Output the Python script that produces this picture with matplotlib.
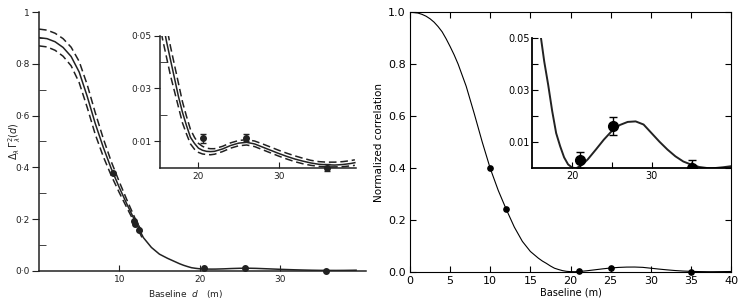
import matplotlib.pyplot as plt

# ---- left panel (scanned original) ----
left_d = [0, 1, 2, 3, 4, 5, 6, 7, 8, 9, 10, 11, 12, 13, 14, 15, 15.5, 16,
          16.5, 17, 17.5, 18, 18.5, 19, 19.5, 20, 20.5, 21, 21.5, 22, 23, 24,
          25, 26, 27, 28, 29, 30, 31, 32, 33, 34, 35, 36, 37, 38, 39, 39.5]
left_mid = [0.902, 0.898, 0.886, 0.864, 0.829, 0.769, 0.675, 0.57, 0.478,
            0.395, 0.322, 0.254, 0.19, 0.128, 0.09, 0.064, 0.056, 0.048,
            0.041, 0.034, 0.027, 0.021, 0.016, 0.0115, 0.0092, 0.0074,
            0.0066, 0.0062, 0.0061, 0.0062, 0.0071, 0.0084, 0.0093, 0.0096,
            0.009, 0.0078, 0.0066, 0.0054, 0.0043, 0.0033, 0.0025, 0.0018,
            0.0013, 0.0011, 0.001, 0.0012, 0.0016, 0.0019]
left_hi = [0.935, 0.931, 0.919, 0.898, 0.865, 0.81, 0.72, 0.612, 0.512,
           0.422, 0.344, 0.27, 0.2, 0.14, 0.1, 0.072, 0.063, 0.054, 0.046,
           0.039, 0.032, 0.025, 0.0195, 0.0145, 0.0115, 0.0092, 0.0081,
           0.0074, 0.0072, 0.0072, 0.0081, 0.0094, 0.0103, 0.0106, 0.0101,
           0.009, 0.0078, 0.0066, 0.0055, 0.0045, 0.0036, 0.0028, 0.0023,
           0.0021, 0.0021, 0.0023, 0.0027, 0.003]
left_lo = [0.87, 0.866, 0.853, 0.83, 0.793, 0.728, 0.632, 0.528, 0.442,
           0.368, 0.302, 0.24, 0.18, 0.118, 0.081, 0.057, 0.049, 0.042,
           0.035, 0.029, 0.023, 0.017, 0.0128, 0.009, 0.007, 0.0058, 0.0052,
           0.005, 0.0049, 0.0051, 0.0061, 0.0074, 0.0083, 0.0086, 0.008,
           0.0068, 0.0056, 0.0044, 0.0033, 0.0023, 0.0015, 0.0009, 0.0005,
           0.0003, 0.0003, 0.0004, 0.0007, 0.0009]
left_pts_d = [9.2, 11.8, 12.0, 12.45, 20.6, 25.6, 35.7]
left_pts_v = [0.377, 0.193, 0.18, 0.158, 0.009, 0.012, 0.0]
left_err_d = [20.6, 25.9, 36.0]
left_err_v = [0.0111, 0.0114, 0.0]
left_err_e = [0.0017, 0.0014, 0.0014]

# ---- right panel (recomputed figure) ----
right_d = [0, 0.5, 1, 1.5, 2, 2.5, 3, 3.5, 4, 4.5, 5, 5.5, 6, 7, 8, 9, 10,
           11, 12, 13, 14, 15, 16, 16.5, 17, 17.5, 18, 18.5, 19, 19.5, 20,
           20.5, 21, 21.5, 22, 23, 24, 25, 26, 27, 28, 29, 30, 31, 32, 33,
           34, 35, 36, 37, 37.5, 38, 39, 40]
right_v = [1.0, 0.999, 0.997, 0.992, 0.985, 0.975, 0.962, 0.945, 0.925,
           0.898, 0.868, 0.836, 0.8, 0.715, 0.61, 0.5, 0.398, 0.313, 0.24,
           0.172, 0.117, 0.078, 0.052, 0.041, 0.032, 0.022, 0.0135, 0.0085,
           0.0042, 0.0015, 0.0003, 0.0, 0.0008, 0.002, 0.0035, 0.0072, 0.011,
           0.0143, 0.0166, 0.0178, 0.018, 0.0168, 0.0135, 0.0102, 0.0072,
           0.0046, 0.0026, 0.0014, 0.0005, 0.0001, 0.0, 0.0001, 0.0004,
           0.0008]
right_pts_d = [10, 12, 21, 25, 35]
right_pts_v = [0.398, 0.24, 0.003, 0.016, 0.0003]
ins_d = [21.0, 25.1, 35.1]
ins_v = [0.0032, 0.0163, 0.0003]
ins_e = [0.0032, 0.0035, 0.003]

ink = '#222222'
dash = (0, (5, 2.5))
fig = plt.figure(figsize=(7.39, 3.0), dpi=100)

# left main
ax = fig.add_axes([0.0528, 0.0977, 0.4421, 0.8613])
ax.plot(left_d, left_mid, color=ink, lw=1.1)
ax.plot(left_d[:14], left_hi[:14], color=ink, lw=1.1, ls=dash)
ax.plot(left_d[:14], left_lo[:14], color=ink, lw=1.1, ls=dash)
ax.plot(left_pts_d, left_pts_v, 'o', color=ink, ms=4, clip_on=False)
ax.set_xlim(0, 40.7)
ax.set_ylim(0, 1)
for s in ['top', 'right']:
    ax.spines[s].set_visible(False)
for s in ['left', 'bottom']:
    ax.spines[s].set_color(ink)
    ax.spines[s].set_linewidth(1.1)
ax.set_yticks([0, 0.2, 0.4, 0.6, 0.8, 1.0])
ax.set_yticklabels(['0·0', '0·2', '0·4', '0·6', '0·8', '1'])
ax.set_yticks([0.1, 0.3, 0.5, 0.7, 0.9], minor=True)
ax.set_xticks([10, 20, 30])
ax.tick_params(axis='y', which='major', direction='out', length=5, pad=2,
               labelsize=6.5, colors=ink)
ax.tick_params(axis='y', which='minor', direction='in', length=5, colors=ink)
ax.tick_params(axis='x', which='major', direction='in', length=4, pad=3,
               labelsize=6.5, colors=ink)
ax.set_xlabel(r'Baseline  $d$   (m)', fontsize=6.5, color=ink)
ax.xaxis.set_label_coords(0.45, -0.066)
ax.set_ylabel(r'$\Delta_\lambda\,\Gamma^2_\lambda(d)$', fontsize=7,
              color=ink)
ax.yaxis.set_label_coords(-0.05, 0.5)

# left inset
ai = fig.add_axes([0.2165, 0.441, 0.2652, 0.44])
ai.plot(left_d, left_mid, color=ink, lw=1.1)
ai.plot(left_d, left_hi, color=ink, lw=1.1, ls=dash)
ai.plot(left_d, left_lo, color=ink, lw=1.1, ls=dash)
ai.errorbar(left_err_d, left_err_v, yerr=left_err_e, fmt='o', color=ink,
            ms=4, capsize=2.5, elinewidth=1, clip_on=False)
ai.set_xlim(15.2, 39.64)
ai.set_ylim(0, 0.05)
for s in ['top', 'right']:
    ai.spines[s].set_visible(False)
for s in ['left', 'bottom']:
    ai.spines[s].set_color(ink)
    ai.spines[s].set_linewidth(1.1)
ai.set_yticks([0.01, 0.03, 0.05])
ai.set_yticklabels(['0·01', '0·03', '0·05'])
ai.set_yticks([0.02, 0.04], minor=True)
ai.set_xticks([20, 30])
ai.tick_params(axis='y', which='major', direction='out', length=4, pad=2,
               labelsize=6.5, colors=ink)
ai.tick_params(axis='y', which='minor', direction='in', length=5, colors=ink)
ai.tick_params(axis='x', which='major', direction='in', length=4, pad=3,
               labelsize=6.5, colors=ink)
ai.patch.set_alpha(0)

# right main
ar = fig.add_axes([0.5548, 0.0943, 0.4344, 0.8647])
ar.plot(right_d, right_v, color='black', lw=0.8)
ar.plot(right_pts_d, right_pts_v, 'o', color='black', ms=3.8, clip_on=False)
ar.set_xlim(0, 40)
ar.set_ylim(0, 1)
ar.set_xticks(range(0, 41, 5))
ar.set_yticks([0, 0.2, 0.4, 0.6, 0.8, 1.0])
ar.set_yticklabels(['0.0', '0.2', '0.4', '0.6', '0.8', '1.0'])
ar.tick_params(direction='in', top=True, right=True, length=4, pad=3,
               labelsize=8)
ar.set_xlabel('Baseline (m)', fontsize=7, labelpad=1)
ar.set_ylabel('Normalized correlation', fontsize=7.5, labelpad=3)

# right inset
ri = fig.add_axes([0.7203, 0.439, 0.2689, 0.4343])
ri.plot(right_d, right_v, color='#222222', lw=1.4)
ri.errorbar(ins_d, ins_v, yerr=ins_e, fmt='o', color='black', ms=7,
            capsize=3, elinewidth=1)
ri.set_xlim(15, 40)
ri.set_ylim(0, 0.05)
for s in ['top', 'right']:
    ri.spines[s].set_visible(False)
ri.spines['left'].set_linewidth(1.3)
ri.spines['bottom'].set_linewidth(1.3)
ri.set_yticks([0.01, 0.02, 0.03, 0.04, 0.05])
ri.set_yticklabels(['0.01', '', '0.03', '', '0.05'])
ri.set_xticks([20, 25, 30, 35])
ri.set_xticklabels(['20', '', '30', ''])
ri.tick_params(direction='in', length=4, pad=2, labelsize=7)
ri.patch.set_alpha(0)

fig.savefig('out.png', dpi=100)
